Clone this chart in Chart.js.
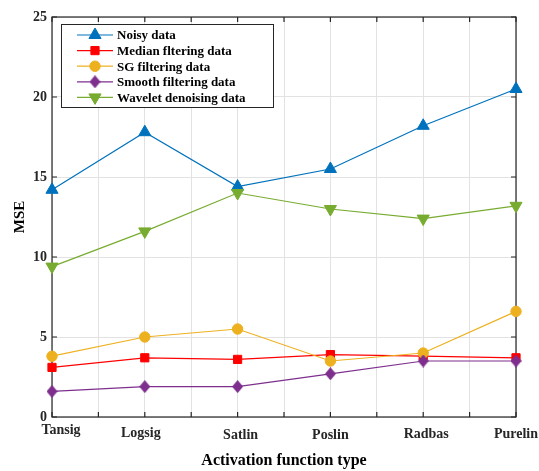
<!DOCTYPE html>
<html>
<head>
<meta charset="utf-8">
<script src="https://cdn.jsdelivr.net/npm/chart.js@4.4.1/dist/chart.umd.min.js"></script>
<style>
  html, body { margin: 0; padding: 0; background: #fff; }
  #wrap { width: 539px; height: 471px; }
</style>
</head>
<body>
<div id="wrap"><canvas id="c" width="539" height="471"></canvas></div>
<script>
// Activation functions (placed on every second grid line of the x axis)
const categories = ['Tansig', 'Logsig', 'Satlin', 'Poslin', 'Radbas', 'Purelin'];

// MSE per activation function for each signal
const noisyData    = [14.2, 17.8, 14.4, 15.5, 18.2, 20.5];
const medianData   = [3.1, 3.7, 3.6, 3.9, 3.8, 3.7];
const sgData       = [3.8, 5.0, 5.5, 3.5, 4.0, 6.6];
const smoothData   = [1.6, 1.9, 1.9, 2.7, 3.5, 3.5];
const waveletData  = [9.4, 11.6, 14.0, 13.0, 12.4, 13.2];

const seriesNames = ['Noisy data', 'Median fltering data', 'SG filtering data',
                     'Smooth filtering data', 'Wavelet denoising data'];

const yTickValues = [0, 5, 10, 15, 20, 25];

const FONT = '"Liberation Serif", "Times New Roman", serif';

// each category sits at x = 2*i on a 0..10 linear axis
const toPoints = vals => vals.map((v, i) => ({ x: i * 2, y: v }));

// slightly tall diamond marker
function makeDiamond(color, w, h) {
  const cv = document.createElement('canvas');
  cv.width = w; cv.height = h;
  const g = cv.getContext('2d');
  g.fillStyle = color;
  g.beginPath();
  g.moveTo(w / 2, 0); g.lineTo(w, h / 2); g.lineTo(w / 2, h); g.lineTo(0, h / 2);
  g.closePath();
  g.fill();
  return cv;
}

const styles = [
  { color: '#0072BD', pointStyle: 'triangle', radius: 7,   rotation: 0 },
  { color: '#FF0000', pointStyle: 'rect',     radius: 5.8, rotation: 0 },
  { color: '#EDB120', pointStyle: 'circle',   radius: 5.2, rotation: 0 },
  { color: '#7E2F8E', pointStyle: makeDiamond('#7E2F8E', 11, 13), radius: 6, rotation: 0 },
  { color: '#77AC30', pointStyle: 'triangle', radius: 7,   rotation: 180 }
];

const allSeries = [noisyData, medianData, sgData, smoothData, waveletData];

const datasets = allSeries.map((vals, i) => ({
  label: seriesNames[i],
  data: toPoints(vals),
  borderColor: styles[i].color,
  backgroundColor: styles[i].color,
  pointBackgroundColor: styles[i].color,
  pointBorderColor: styles[i].color,
  pointStyle: styles[i].pointStyle,
  pointRadius: styles[i].radius,
  pointRotation: styles[i].rotation,
  pointBorderWidth: 1,
  borderWidth: 1.2,
  tension: 0,
  clip: false,
  order: allSeries.length - 1 - i
}));

// per-label nudges for the category names under the axis
const labelNudge = [
  { dx: 9, dy: -3 }, { dx: -4, dy: 0 }, { dx: 3, dy: 2 },
  { dx: 0, dy: 2 },  { dx: 3, dy: 1 },  { dx: 0, dy: 1 }
];

const framePlugin = {
  id: 'frame',
  beforeDatasetsDraw(chart) {
    const { ctx, chartArea: a, scales } = chart;
    ctx.save();
    ctx.strokeStyle = '#262626';
    ctx.lineWidth = 1.2;
    ctx.strokeRect(a.left, a.top, a.right - a.left, a.bottom - a.top);
    ctx.beginPath();
    const tl = 5;
    for (let v = 0; v <= 10; v++) {
      const x = scales.x.getPixelForValue(v);
      ctx.moveTo(x, a.bottom); ctx.lineTo(x, a.bottom - tl);
      ctx.moveTo(x, a.top);    ctx.lineTo(x, a.top + tl);
    }
    yTickValues.forEach(v => {
      const y = scales.y.getPixelForValue(v);
      ctx.moveTo(a.left, y);  ctx.lineTo(a.left + tl, y);
      ctx.moveTo(a.right, y); ctx.lineTo(a.right - tl, y);
    });
    ctx.stroke();
    ctx.restore();
  },
  afterDraw(chart) {
    const { ctx, chartArea: a, scales } = chart;
    ctx.save();
    // category names
    ctx.fillStyle = '#262626';
    ctx.font = 'bold 14px ' + FONT;
    ctx.textAlign = 'center';
    ctx.textBaseline = 'alphabetic';
    categories.forEach((c, i) => {
      const x = scales.x.getPixelForValue(i * 2) + labelNudge[i].dx;
      ctx.fillText(c, x, a.bottom + 20 + labelNudge[i].dy);
    });

    // legend box
    const bx = a.left + 9, by = a.top + 7, bw = 212, bh = 83;
    ctx.fillStyle = '#fff';
    ctx.fillRect(bx, by, bw, bh);
    ctx.strokeStyle = '#262626';
    ctx.lineWidth = 1;
    ctx.strokeRect(bx + 0.5, by + 0.5, bw, bh);
    ctx.font = 'bold 13px ' + FONT;
    ctx.textAlign = 'left';
    ctx.textBaseline = 'middle';
    seriesNames.forEach((name, i) => {
      const y = by + 11 + i * 15.6;
      const s = styles[i];
      ctx.strokeStyle = s.color;
      ctx.fillStyle = s.color;
      ctx.lineWidth = 1.2;
      ctx.beginPath();
      ctx.moveTo(bx + 16, y); ctx.lineTo(bx + 52, y);
      ctx.stroke();
      ctx.lineWidth = 1;
      Chart.helpers.drawPoint(ctx, {
        pointStyle: s.pointStyle, radius: s.radius, rotation: s.rotation, borderWidth: 1
      }, bx + 34, y);
      ctx.fillStyle = '#000';
      ctx.fillText(name, bx + 56, y + 1);
    });
    ctx.restore();
  }
};

new Chart(document.getElementById('c'), {
  type: 'line',
  data: { datasets },
  options: {
    responsive: false,
    animation: false,
    devicePixelRatio: 1,
    layout: { padding: { top: 17, right: 23, left: 0, bottom: 0 } },
    plugins: { legend: { display: false }, tooltip: { enabled: false } },
    scales: {
      x: {
        type: 'linear', min: 0, max: 10,
        ticks: { stepSize: 1, display: false },
        grid: { color: '#e2e2e2', lineWidth: 1, drawTicks: false },
        border: { display: false },
        title: {
          display: true, text: 'Activation function type', color: '#000',
          font: { family: FONT, size: 16, weight: 'bold' },
          padding: { top: 0, bottom: 1 }
        },
        afterFit(s) { s.height = 54; }
      },
      y: {
        min: 0, max: 25,
        ticks: {
          stepSize: 5, color: '#262626', padding: 5,
          font: { family: FONT, size: 14, weight: 'bold' }
        },
        grid: { color: '#e2e2e2', lineWidth: 1, drawTicks: false },
        border: { display: false },
        title: {
          display: true, text: 'MSE', color: '#000',
          font: { family: FONT, size: 15, weight: 'bold' },
          padding: { top: 11, bottom: 0 }
        },
        afterFit(s) { s.width = 52; }
      }
    }
  },
  plugins: [framePlugin]
});
</script>
</body>
</html>
